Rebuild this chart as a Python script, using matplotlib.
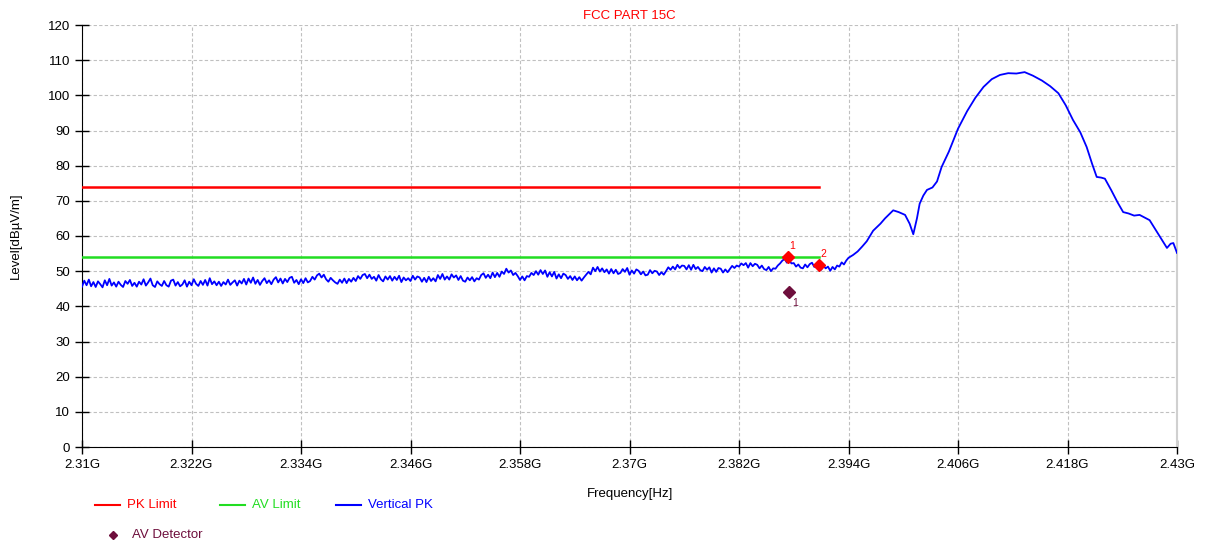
import matplotlib
matplotlib.use("Agg")
import matplotlib.pyplot as plt
from matplotlib.lines import Line2D

plt.rcParams['font.family'] = ['Liberation Sans', 'DejaVu Sans']

# noise floor of the Vertical PK trace, 0.25 MHz steps from 2.310 GHz
noise_start = 2.310
noise_step = 0.00025
noise_vals = [
    45.6, 47.3, 46.0, 47.6, 45.7, 46.9, 45.5, 47.1, 46.3, 45.4, 47.4, 46.0,
    47.8, 45.9, 46.8, 45.6, 47.0, 46.1, 45.5, 47.2, 46.4, 47.5, 45.8, 46.7,
    45.6, 47.0, 46.2, 47.7, 45.9, 46.8, 47.9, 46.0, 45.5, 47.1, 46.3, 45.8,
    47.2, 46.0, 45.6, 47.3, 47.6, 45.9, 46.9, 45.7, 46.2, 47.4, 45.6, 47.0,
    46.0, 47.7, 46.4, 45.8, 47.2, 46.1, 47.5, 45.9, 48.0, 46.3, 47.1, 46.0,
    47.0, 45.8, 46.9, 46.2, 47.6, 46.1, 46.8, 47.4, 45.9, 47.3, 46.5, 47.8,
    46.2, 47.9, 46.7, 48.2, 46.4, 47.5, 46.1, 47.2, 48.0, 46.6, 47.4, 46.3,
    47.6, 48.3, 46.8, 47.9, 46.5, 47.8, 46.9, 48.1, 48.4, 46.7, 47.5, 46.3,
    47.7, 46.6, 48.0, 46.8, 47.2, 48.4, 47.6, 48.8, 49.3, 48.2, 49.0, 47.7,
    47.0, 48.1, 47.4, 46.8, 46.4, 47.6, 46.7, 47.9, 46.6, 47.8, 47.0, 48.1,
    47.2, 48.6, 47.8, 48.9, 49.2, 48.0, 49.0, 47.8, 48.4, 47.3, 48.9, 47.7,
    47.1, 48.5, 47.6, 48.6, 47.3, 48.4, 47.5, 48.7, 46.9, 48.2, 47.4, 48.0,
    47.2, 48.7, 47.6, 48.5, 48.2, 47.0, 48.1, 46.9, 48.4, 47.2, 48.0, 47.1,
    48.9, 47.8, 49.2, 47.6, 48.5, 47.6, 49.1, 48.2, 48.8, 47.5, 48.6, 47.3,
    47.0, 48.2, 47.4, 48.3, 47.1, 48.0, 47.6, 48.9, 49.4, 48.1, 49.0, 48.0,
    49.6, 48.3, 49.5, 48.4, 49.9, 49.2, 50.7, 49.6, 50.2, 48.9, 49.5, 48.6,
    47.5, 48.5, 47.4, 48.6, 48.4, 49.5, 48.9, 50.0, 49.0, 50.3, 49.2, 50.2,
    48.4, 49.7, 48.5, 49.8, 47.9, 49.1, 48.0, 49.3, 48.9, 47.8, 48.6, 47.5,
    48.5, 47.4, 48.3, 47.3, 48.2, 49.0, 49.8, 49.1, 51.0, 50.0, 51.2, 49.9,
    50.8, 49.7, 50.5, 49.3, 50.6, 49.4, 50.4, 49.2, 49.5, 50.6, 49.8, 50.9,
    49.0, 50.2, 49.3, 50.5, 50.1, 49.1, 49.9, 48.8, 49.0, 50.3, 49.4, 50.1,
    49.9, 48.9, 49.7, 49.0, 50.0, 51.1, 50.4, 51.3, 50.5, 51.8, 50.9, 51.6,
    51.5, 50.5, 51.7, 50.4, 51.8, 50.6, 51.2, 50.3, 50.0, 51.2, 50.4, 51.1,
    49.6, 50.8, 49.8, 50.9, 50.7, 49.6, 50.5, 49.7, 50.6, 51.5, 50.9, 51.6,
    51.3, 52.2, 51.7, 52.3, 51.0, 52.3, 51.4, 52.1, 51.8, 50.8, 51.6, 50.6,
    50.3, 51.2, 50.0, 50.8, 50.7, 51.6, 52.2, 53.0, 53.5, 52.4, 53.1, 52.2,
    52.3, 51.3, 51.9, 51.0, 50.8, 51.9, 51.1, 52.0, 52.4, 51.2, 51.8, 50.9,
    50.4, 51.5, 50.8, 51.3, 50.1, 51.2, 50.5, 51.6, 51.3, 52.5, 51.9, 53.0,
]

# rise and main carrier
peak_freq = [
    2.3940, 2.3945, 2.3950, 2.3955, 2.3960, 2.3967, 2.3975, 2.3980, 2.3989, 2.3995,
    2.4002, 2.4007, 2.4011, 2.4015, 2.4018, 2.4022, 2.4026, 2.4032, 2.4037, 2.4042,
    2.4050, 2.4060, 2.4070, 2.4079, 2.4088, 2.4097, 2.4106, 2.4115, 2.4124, 2.4133,
    2.4142, 2.4152, 2.4161, 2.4170, 2.4178, 2.4186, 2.4194, 2.4201, 2.4207, 2.4212,
    2.4217, 2.4221, 2.4228, 2.4235, 2.4241, 2.4247, 2.4253, 2.4259, 2.4265, 2.4270,
    2.4276, 2.4282, 2.4289, 2.4293, 2.4296, 2.4300,
]
peak_vals = [
    53.8, 54.6, 55.6, 57.0, 58.5, 61.5, 63.5, 65.0, 67.3, 66.8,
    66.0, 63.5, 60.5, 65.0, 69.2, 71.5, 73.1, 73.8, 75.5, 79.6,
    84.0, 90.5, 95.5, 99.3, 102.4, 104.6, 105.8, 106.3, 106.2, 106.6,
    105.6, 104.2, 102.6, 100.6, 97.2, 93.0, 89.5, 85.3, 80.5, 76.8,
    76.6, 76.3, 73.0, 69.5, 66.8, 66.4, 65.8, 66.0, 65.2, 64.5,
    62.0, 59.5, 56.6, 57.8, 58.0, 55.2,
]

limit_freq = [2.31, 2.3908]
pk_limit = [74, 74]
av_limit = [54, 54]

pk_mark_freq = [2.3874, 2.3908]
pk_mark_vals = [54.0, 51.7]
pk_mark_labels = ['1', '2']
av_mark_freq = [2.3875]
av_mark_vals = [44.1]
av_mark_labels = ['1']

xticks = [2.31, 2.322, 2.334, 2.346, 2.358, 2.37, 2.382, 2.394, 2.406, 2.418, 2.43]
xticklabels = ['2.31G', '2.322G', '2.334G', '2.346G', '2.358G', '2.37G',
               '2.382G', '2.394G', '2.406G', '2.418G', '2.43G']

trace_f = [noise_start + i * noise_step for i in range(len(noise_vals))] + peak_freq
trace_v = noise_vals + peak_vals

RED = '#ff0000'
GREEN = '#22dd22'
BLUE = '#0000ff'
MAROON = '#6e0e3c'

fig = plt.figure(figsize=(12.06, 5.45), dpi=100)
ax = fig.add_axes([82 / 1206, 98 / 545, 1095 / 1206, 422 / 545])

ax.plot(limit_freq, pk_limit, color=RED, lw=1.8, zorder=3)
ax.plot(limit_freq, av_limit, color=GREEN, lw=1.8, zorder=3)
ax.plot(trace_f, trace_v, color=BLUE, lw=1.3, zorder=4)

ax.plot(pk_mark_freq, pk_mark_vals, 'D', color=RED, ms=6, zorder=5)
for f, v, t in zip(pk_mark_freq, pk_mark_vals, pk_mark_labels):
    ax.annotate(t, (f, v), xytext=(1, 6), textcoords='offset points',
                color=RED, fontsize=7.5)
ax.plot(av_mark_freq, av_mark_vals, 'D', color=MAROON, ms=6, zorder=5)
for f, v, t in zip(av_mark_freq, av_mark_vals, av_mark_labels):
    ax.annotate(t, (f, v), xytext=(2, -10), textcoords='offset points',
                color=MAROON, fontsize=7.5)

ax.set_xlim(2.31, 2.43)
ax.set_ylim(0, 120)
ax.set_xticks(xticks)
ax.set_xticklabels(xticklabels)
ax.set_yticks(range(0, 121, 10))
ax.tick_params(direction='inout', length=10, width=1, labelsize=9.5, colors='black')
ax.grid(True, color='#c0c0c0', ls=(0, (3, 2)), lw=0.8)
ax.spines['top'].set_visible(False)
ax.spines['right'].set_color('#d0d0d0')
ax.spines['right'].set_linewidth(1.5)

ax.set_title('FCC PART 15C', color=RED, fontsize=9.5, pad=4)
ax.set_ylabel('Level[dBµV/m]', fontsize=9.5, labelpad=19)
fig.text(630 / 1206, 1 - 494 / 545, 'Frequency[Hz]', ha='center', va='center', fontsize=9.5)

# legend drawn by hand under the axes
legend_items = [(95, 'PK Limit', RED), (220, 'AV Limit', GREEN), (336, 'Vertical PK', BLUE)]
for x0, label, c in legend_items:
    y = 1 - 505 / 545
    fig.add_artist(Line2D([x0 / 1206, (x0 + 25) / 1206], [y, y], color=c, lw=1.5))
    fig.text((x0 + 32) / 1206, y, label, color=c, fontsize=9.5, va='center')
y = 1 - 535 / 545
fig.add_artist(Line2D([113 / 1206], [y], marker='D', color=MAROON, ms=4, ls='none'))
fig.text(132 / 1206, y, 'AV Detector', color=MAROON, fontsize=9.5, va='center')

fig.savefig('out.png', dpi=100)
